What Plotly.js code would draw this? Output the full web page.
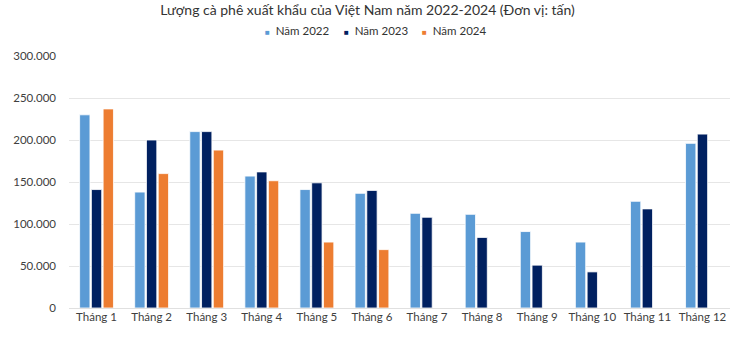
<!DOCTYPE html>
<html>
<head>
<meta charset="utf-8">
<script src="https://cdn.plot.ly/plotly-3.0.1.min.js"></script>
<style>html,body{margin:0;padding:0;background:#fff}#chart{width:735px;height:339px}</style>
</head>
<body>
<div id="chart"></div>
<script>
const months = ["Tháng 1","Tháng 2","Tháng 3","Tháng 4","Tháng 5","Tháng 6","Tháng 7","Tháng 8","Tháng 9","Tháng 10","Tháng 11","Tháng 12"];
const y2022 = [230000,138000,210000,157000,141000,136500,112700,111500,91000,78500,127000,196000];
const y2023 = [141000,200000,210000,162000,149000,140000,108000,84000,51000,43000,118000,207000];
const y2024 = [237000,160000,188000,151500,78500,69500,null,null,null,null,null,null];
const seriesNames = ["Năm 2022","Năm 2023","Năm 2024"];
const colors = ["#5B9BD5","#002060","#ED7D31"];
const yTicks = [0,50000,100000,150000,200000,250000,300000];

const font = "Lato, Liberation Sans, Arial, sans-serif";
const data = [y2022,y2023,y2024].map((vals,i)=>({
  type:"bar", x:months, y:vals, name:seriesNames[i], showlegend:false,
  marker:{color:colors[i], line:{color:"#ffffff", width:0.8}}
}));
const legendX = [0.2935, 0.4130, 0.5310];
const annotations = seriesNames.map((n,i)=>({
  xref:"paper", yref:"paper", x:legendX[i], y:1.103, xanchor:"left", yanchor:"middle", showarrow:false,
  text:'<span style="color:'+colors[i]+';font-size:8px">■</span>  '+n,
  font:{family:font, size:11.5, color:"#333333"}
}));
const layout = {
  width:735, height:339,
  margin:{l:69,r:5,t:56,b:31},
  paper_bgcolor:"#fff", plot_bgcolor:"#fff",
  separators:",.",
  font:{family:font, color:"#404040"},
  title:{text:"Lượng cà phê xuất khẩu của Việt Nam năm 2022-2024 (Đơn vị: tấn)", font:{family:font,size:14,color:"#333333"}, x:0.5, xanchor:"center", xref:"container", y:1-10/339, yref:"container", yanchor:"middle"},
  barmode:"group", bargap:0.36, bargroupgap:0.12,
  showlegend:false,
  annotations:annotations,
  xaxis:{type:"category", showgrid:false, showline:false, ticks:"", tickfont:{family:font,size:11.5,color:"#404040"}, fixedrange:true},
  yaxis:{range:[0,300000], tickvals:yTicks, tickformat:",d", showgrid:true, gridcolor:"#e6e6e6", gridwidth:1, zeroline:true, zerolinecolor:"#e0e0e0", zerolinewidth:1, showline:false, ticks:"", ticklabelstandoff:12, tickfont:{family:font,size:11.5,color:"#404040"}, fixedrange:true}
};
Plotly.newPlot("chart", data, layout, {displayModeBar:false, staticPlot:true});
</script>
</body>
</html>
